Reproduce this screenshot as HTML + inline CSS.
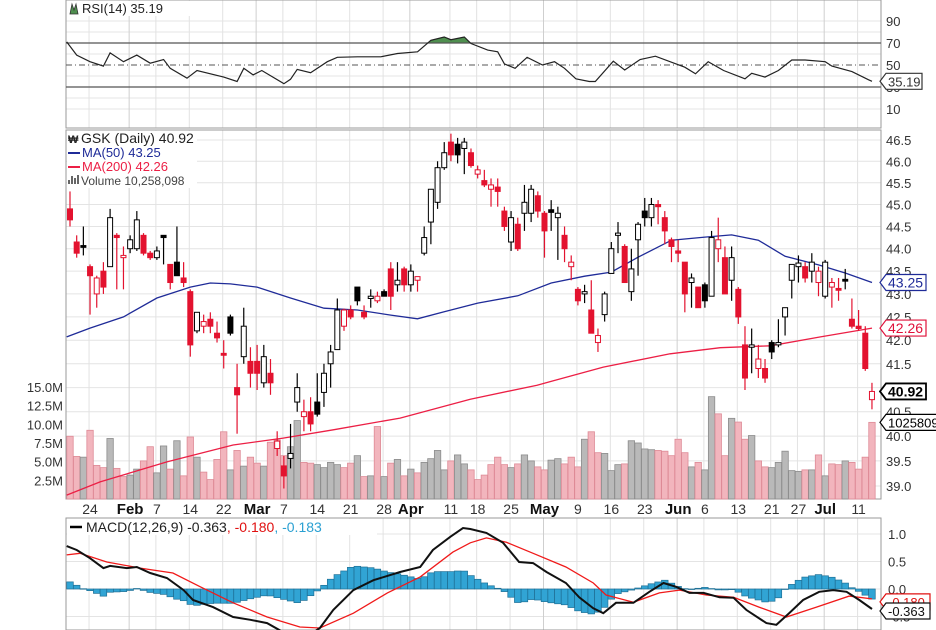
<!DOCTYPE html>
<html><head><meta charset="utf-8"><style>
html,body{margin:0;padding:0;background:#fff;}
svg{display:block;font-family:"Liberation Sans",sans-serif;}
</style></head><body>
<svg id="chart" width="936" height="630" viewBox="0 0 936 630" xmlns="http://www.w3.org/2000/svg">
<g id="grid"></g><g id="marks"></g><g id="labels"></g>
</svg>
<script>
const opens=[44.9,44.15,44.07,43.6,43.0,43.5,43.6,44.3,43.8,44.0,44.0,44.3,43.9,43.8,44.3,43.65,43.7,43.35,43.05,42.2,42.3,42.45,42.15,41.72,42.5,41.0,41.65,41.55,41.55,41.1,41.3,39.75,39.4,39.55,40.7,40.4,40.5,40.7,40.9,41.5,41.8,42.3,42.65,43.15,42.6,42.9,42.85,43.05,43.55,43.2,43.55,43.2,43.3,43.9,44.6,45.05,45.85,46.45,46.4,46.3,46.2,45.7,45.55,45.35,45.4,44.85,44.15,44.55,44.8,44.8,45.2,44.8,44.88,44.7,44.3,43.6,43.1,43.0,42.65,41.95,42.55,43.45,44.3,44.05,43.05,44.2,44.85,44.7,45.0,44.7,44.2,43.95,43.7,43.25,43.15,43.2,42.95,44.0,43.8,43.3,43.1,41.9,41.85,41.4,41.4,41.95,41.9,42.5,43.3,43.6,43.6,43.5,43.25,42.95,43.15,43.12,43.32,42.45,42.3,42.15,40.75];
const highs=[45.3,44.3,44.5,43.65,43.4,43.7,44.9,44.35,44.05,44.3,44.85,44.35,43.95,44.05,44.3,43.65,44.5,43.7,43.1,42.6,42.55,42.6,42.4,42.0,42.55,41.5,42.7,41.85,41.9,41.9,41.6,40.1,39.6,40.25,41.3,40.75,40.8,41.3,41.5,41.9,42.9,42.68,42.75,43.15,42.75,43.1,43.05,43.1,43.7,43.7,43.6,43.65,43.35,44.5,45.35,46.0,46.45,46.65,46.55,46.55,46.3,45.9,45.8,45.6,45.6,44.95,44.85,44.7,45.45,45.45,45.3,44.85,45.1,44.95,44.5,43.85,43.15,43.2,43.3,42.25,43.05,44.15,44.6,44.1,44.0,44.6,45.15,45.15,45.1,44.85,44.25,44.2,43.7,43.45,43.15,43.25,44.4,44.7,44.05,44.05,43.15,42.3,42.25,41.9,41.6,42.0,42.45,42.7,43.65,43.85,43.7,43.9,43.6,43.75,43.35,43.35,43.55,42.9,42.65,42.3,41.1];
const lows=[44.5,43.8,43.85,42.55,42.7,43.0,43.6,43.1,43.1,43.9,43.95,43.85,43.75,43.75,43.65,43.1,43.4,43.15,41.65,42.15,42.15,42.15,41.95,41.4,42.1,40.05,41.5,41.0,40.95,41.0,40.85,39.6,38.95,39.35,40.5,40.1,40.1,40.4,40.6,41.0,41.8,42.2,42.45,42.75,42.45,42.7,42.8,42.95,42.65,43.05,43.05,43.05,43.05,43.85,44.1,44.9,45.8,46.0,45.95,45.7,45.85,45.6,45.4,44.95,44.95,44.4,43.95,43.95,44.4,44.6,44.7,43.8,44.4,43.75,43.7,43.3,42.75,42.8,42.15,41.75,42.4,43.45,43.9,43.25,42.85,43.4,44.5,44.5,44.55,44.1,43.7,43.7,42.6,42.7,42.7,42.7,42.95,43.7,43.0,42.85,42.35,40.95,41.3,41.2,41.1,41.6,41.85,42.1,42.9,43.25,43.25,43.25,42.95,42.9,42.7,42.85,43.1,42.25,42.2,41.35,40.55];
const closes=[44.65,43.9,44.03,43.4,43.35,43.15,44.7,44.25,43.85,44.2,44.65,43.9,43.8,43.95,44.25,43.25,43.4,43.25,41.9,42.6,42.4,42.3,42.05,41.68,42.15,40.85,42.3,41.3,41.3,41.65,41.1,39.9,39.2,39.65,41.0,40.5,40.25,40.45,41.3,41.75,42.65,42.65,42.5,42.85,42.5,42.95,42.95,42.95,42.95,43.3,43.2,43.5,43.38,44.25,45.35,45.85,46.2,46.15,46.15,46.45,45.9,45.8,45.45,45.45,45.3,44.5,44.7,44.0,45.05,45.35,44.85,44.4,44.82,44.8,44.0,43.7,42.85,43.05,42.15,42.1,43.0,44.0,44.35,43.25,43.55,44.55,44.7,45.0,44.95,44.4,44.05,43.9,43.0,43.35,42.7,42.85,44.25,44.2,43.0,43.8,42.5,41.2,41.9,41.6,41.2,41.75,41.95,42.7,43.65,43.68,43.35,43.7,43.5,43.7,43.25,43.08,43.28,42.3,42.25,41.4,40.92];
const candleType="rrbrhrwrhwwrrwbrbrrwhrrrbrwrrwrhrwwhrbwwwhrbrwhbrwrwhwwwwrbwrhrhrrwrwwrrbwrhrwrhwwwrwwbwrrrrrwrbwhrwrrwhrbwwwwrwhwhrbrrrh";
const volumes=[8.4,5.7,5.6,9.2,4.5,4.2,8.1,4.1,3.0,3.2,4.0,5.1,7.0,3.5,7.1,4.0,7.8,3.1,8.3,5.6,3.6,2.6,5.3,9.0,3.9,6.5,4.4,5.6,4.8,4.4,7.6,7.9,5.8,7.0,10.5,4.9,4.8,4.6,4.2,4.9,4.6,4.2,4.8,5.8,3.0,3.1,9.7,3.0,4.8,5.3,3.1,4.0,3.5,4.9,5.4,6.5,3.9,5.1,5.9,4.7,3.9,2.6,3.2,4.6,5.6,4.6,4.2,4.7,5.9,5.1,4.3,3.9,5.2,5.4,4.7,5.6,4.3,8.0,9.0,6.2,6.1,3.8,4.6,4.7,7.8,7.5,6.7,6.6,6.5,6.4,5.8,8.0,6.2,4.3,4.9,3.9,13.7,11.4,5.8,10.8,10.3,8.0,8.5,5.1,4.3,4.2,4.9,6.4,3.8,3.7,3.9,3.9,5.9,3.1,4.7,4.6,5.1,4.9,4.0,5.6,10.26];
const ma50Idx=[-0.5,3,8,13,18,21,24,28,33,38,43,48,52,56,61,67,72,77,81,85,90,95,99,103,107,112,116,120];
const ma50Val=[42.07,42.26,42.50,42.91,43.15,43.24,43.22,43.15,42.91,42.69,42.65,42.54,42.46,42.61,42.80,42.96,43.24,43.39,43.48,43.81,44.19,44.26,44.31,44.19,43.83,43.64,43.46,43.25];
const ma200Idx=[-0.5,4.5,14.5,24.4,31.9,39.4,49.4,59.9,69.9,79.8,89.8,97.3,104.8,112.3,120];
const ma200Val=[38.82,39.08,39.48,39.82,39.96,40.13,40.37,40.76,41.05,41.43,41.71,41.84,41.88,42.07,42.26];
const rsiIdx=[-0.5,1,3,5,6,8,10,12,14,15,17.5,19,23,25,26,27.4,28.7,32,33,34,36,38.5,40,43,46.5,49,52,54,56,57,59,60,62.5,64,65,66.6,68.4,70.7,72.5,74,75.7,77.7,78.6,81.3,83,85.3,87.6,92,93.6,95.5,97.8,101,102,104,106,108,110,113,114,117,119.5,120];
const rsiVal=[71,59,53,49,61,53,59,51.6,55,47,38,45,39,35,47,41,45,33,37,46,43,53,57,57.5,57.5,60.5,62,72.5,75.5,73,75.5,69.5,63.5,62,51,47,57,50,53,47,37.5,35,35,53.5,45.5,55,58,48,42,53,45,37.5,42.5,39,45,54.5,54.5,53,49,44,36.5,35.19];
const macdIdx=[-0.5,1,3,5,6,8.5,10,12,14.5,17,18.4,21.4,24.4,27,29.5,31.4,34.4,37.4,39.4,42.4,45.4,49.4,52.4,54.3,56.9,58.8,59.9,62.3,64.8,67.2,69.3,71.3,74.2,76.2,78.3,79.8,81.7,84.3,86.7,88.8,90.7,92.7,94.8,97.2,99.3,101.2,104.2,105.7,107.6,109.7,112.1,114.2,116.2,118.1,120];
const macdVal=[0.78,0.71,0.56,0.38,0.42,0.38,0.4,0.29,0.2,-0.02,-0.2,-0.33,-0.51,-0.56,-0.62,-0.75,-0.95,-0.71,-0.38,-0.02,0.16,0.31,0.4,0.71,0.95,1.11,1.09,1.02,0.84,0.49,0.47,0.31,0.11,-0.15,-0.35,-0.44,-0.25,-0.25,-0.05,0.11,0.04,-0.07,-0.07,-0.15,-0.16,-0.38,-0.62,-0.65,-0.44,-0.2,-0.05,-0.02,-0.05,-0.2,-0.363];
const sigIdx=[-0.5,1.5,5.5,10.5,15.4,19.5,24.4,29.5,34.4,37.4,42.4,47.5,52.4,57.3,59.9,62.3,65.3,69.3,74.2,78.3,80.2,84.3,88.2,91.2,95.2,99.3,103.1,107.2,111.7,116.6,120];
const sigVal=[0.62,0.65,0.49,0.38,0.29,0.04,-0.25,-0.51,-0.69,-0.71,-0.44,-0.07,0.22,0.67,0.84,0.93,0.85,0.65,0.4,0.11,-0.11,-0.24,-0.07,-0.02,-0.11,-0.15,-0.33,-0.51,-0.33,-0.13,-0.18];
const dateIdx=[3,9,13,18,23,28,32,37,42,47,51,57,61,66,71,76,81,86,91,95,100,105,109,113,118];
const dateText=["24","Feb","7","14","22","Mar","7","14","21","28","Apr","11","18","25","May","9","16","23","Jun","6","13","21","27","Jul","11"];
const priceTicks=[39.0,39.5,40.0,40.5,41.0,41.5,42.0,42.5,43.0,43.5,44.0,44.5,45.0,45.5,46.0,46.5];
const volTicks=[2.5,5.0,7.5,10.0,12.5,15.0];
const rsiTicks=[10,30,50,70,90];
const macdTicks=[-0.5,0.0,0.5,1.0];

const NS="http://www.w3.org/2000/svg";
const L=66,R=881;
const X=i=>70+i*6.683;
const PY=p=>140+1967*(Math.log(46.5)-Math.log(p));
const VY=v=>499-v*7.47;
const RY=v=>43+(70-v)*1.1;
const MY=v=>589-v*55;
const RED="#e3122f",PINK="#f2b5bd",PINKS="#de8a96",GRAY="#b9b9b9",GRAYS="#8c8c8c",BLUE="#1f2b98",MARED="#ec1f45";
const grid=document.getElementById('grid'),marks=document.getElementById('marks'),labels=document.getElementById('labels');
function el(tag,attrs,parent){const e=document.createElementNS(NS,tag);for(const k in attrs)e.setAttribute(k,attrs[k]);parent.appendChild(e);return e;}
function txt(s,attrs,parent){const e=el('text',attrs,parent);e.textContent=s;return e;}
function interp(idx,val,i){if(i<=idx[0])return val[0];for(let k=1;k<idx.length;k++){if(i<=idx[k]){const t=(i-idx[k-1])/(idx[k]-idx[k-1]);return val[k-1]+t*(val[k]-val[k-1]);}}return val[val.length-1];}
function pathOf(idx,val,yf){return idx.map((d,k)=>(k?'L':'M')+Math.max(L,X(d)).toFixed(1)+','+yf(val[k]).toFixed(1)).join(' ');}

// panel frames & grids
const panels=[[0,128],[130,499],[518,630]];
// horizontal grid lines
priceTicks.forEach(p=>{const g=el('line',{x1:L,x2:R,y1:PY(p),y2:PY(p),stroke:'#e4e4e4','stroke-width':1},grid);});
[20,40,60,80,100,120].forEach(y=>{});
[90,80,60,40,20,10].forEach(v=>{const g=el('line',{x1:L,x2:R,y1:RY(v),y2:RY(v),stroke:'#e6e6e6'},grid);});
macdTicks.forEach(v=>{const g=el('line',{x1:L,x2:R,y1:MY(v),y2:MY(v),stroke:'#e4e4e4'},grid);});
dateIdx.forEach((d,k)=>{const bold=isNaN(+dateText[k]);panels.forEach(([a,b])=>{const g=el('line',{x1:X(d)-1,x2:X(d)-1,y1:a,y2:b,stroke:bold?'#cfcfcf':'#e2e2e2'},grid);});});
panels.forEach(([a,b])=>{const f=el('rect',{x:L,y:a,width:R-L,height:b-a,fill:'none',stroke:'#9a9a9a'},grid);});

// RSI panel
const rsiP=pathOf(rsiIdx,rsiVal,RY);
el('clipPath',{id:'ob'},marks).appendChild(Object.assign(document.createElementNS(NS,'rect'),{}));
document.querySelector('#ob rect').setAttribute('x',L);document.querySelector('#ob rect').setAttribute('y',0);document.querySelector('#ob rect').setAttribute('width',R-L);document.querySelector('#ob rect').setAttribute('height',RY(70));
const fillP=rsiP+' L'+X(120)+','+RY(70)+' L'+L+','+RY(70)+' Z';
const rf=el('path',{d:fillP,fill:'#4f8f4f','clip-path':'url(#ob)'},marks);
[70,30].forEach(v=>{const g=el('line',{x1:L,x2:R,y1:RY(v),y2:RY(v),stroke:'#555','stroke-width':1.3},marks);});
const mid=el('line',{x1:L,x2:R,y1:RY(50),y2:RY(50),stroke:'#555','stroke-dasharray':'6,3,1,3'},marks);
const rl=el('path',{d:rsiP,fill:'none',stroke:'#222','stroke-width':1.2},marks);

// volume bars
volumes.forEach((v,i)=>{const up=candleType[i]==='w'||candleType[i]==='b';const b=el('rect',{x:X(i)-3.2,y:VY(v),width:6.4,height:499-VY(v),fill:up?GRAY:PINK,stroke:up?GRAYS:PINKS,'stroke-width':0.8},marks);});
// MAs
const m2=el('path',{d:pathOf(ma200Idx,ma200Val,PY),fill:'none',stroke:MARED,'stroke-width':1.3},marks);
const m5=el('path',{d:pathOf(ma50Idx,ma50Val,PY),fill:'none',stroke:BLUE,'stroke-width':1.3},marks);
// candles
opens.forEach((o,i)=>{const c=closes[i],t=candleType[i];const col=(t==='r'||t==='h')?RED:'#000';const g=el('g',{},marks);
el('line',{x1:X(i),x2:X(i),y1:PY(highs[i]),y2:PY(lows[i]),stroke:col,'stroke-width':1.2},g);
const top=Math.min(PY(o),PY(c)),h=Math.max(1.5,Math.abs(PY(o)-PY(c)));
const filled=(t==='r'||t==='b');el('rect',{x:X(i)-2.5,y:top,width:5,height:h,fill:filled?col:'#fff',stroke:col,'stroke-width':1},g);});

// MACD
for(let i=0;i<=120;i++){const h=interp(macdIdx,macdVal,i)-interp(sigIdx,sigVal,i);const y0=MY(0),y1=MY(h);const b=el('rect',{x:X(i)-3.3,y:Math.min(y0,y1),width:6.6,height:Math.max(0.5,Math.abs(y1-y0)),fill:'#31a4d4',stroke:'#1f7096','stroke-width':0.7},marks);}
const sl=el('path',{d:pathOf(sigIdx,sigVal,MY),fill:'none',stroke:'#f01a1a','stroke-width':1.3},marks);
const ml=el('path',{d:pathOf(macdIdx,macdVal,MY),fill:'none',stroke:'#111','stroke-width':2},marks);

// axis labels
priceTicks.forEach(p=>{const t=txt(p.toFixed(1),{x:886,y:PY(p)+5,'font-size':13,fill:'#333'},labels);});
volTicks.forEach(v=>{const t=txt(v.toFixed(1)+'M',{x:63,y:VY(v)+5,'font-size':13,fill:'#333','text-anchor':'end'},labels);});
rsiTicks.forEach(v=>{const t=txt(String(v),{x:886,y:RY(v)+5,'font-size':13,fill:'#333'},labels);});
macdTicks.forEach(v=>{const t=txt(v.toFixed(1),{x:888,y:MY(v)+5,'font-size':13,fill:'#333'},labels);});
dateIdx.forEach((d,k)=>{const bold=isNaN(+dateText[k]);const t=txt(dateText[k],{x:X(d),y:514,'font-size':bold?15:14,'font-weight':bold?'bold':'normal',fill:bold?'#111':'#333','text-anchor':'middle'},labels);});

function tag(s,y,col,opts){const w=opts.w||40;const g=el('g',{},labels);
el('path',{d:`M880,${y} L886,${y-8} L${886+w},${y-8} L${886+w},${y+8} L886,${y+8} Z`,fill:'#fff',stroke:col,'stroke-width':opts.bw||1.2},g);
txt(s,{x:888,y:y+5,'font-size':opts.fs||14,'font-weight':opts.bold?'bold':'normal',fill:col},g);}
tag('43.25',PY(43.25),BLUE,{name:'ma50-value-tag'});
tag('42.26',PY(42.26),'#e0103a',{name:'ma200-value-tag'});
tag('40.92',PY(40.92),'#000',{name:'last-price-tag',bold:true,bw:1.8});
tag('10258098',VY(10.26),'#000',{name:'volume-value-tag',w:60,fs:13});
tag('35.19',RY(35.19),'#333',{name:'rsi-value-tag',w:36,fs:13});
tag('-0.180',MY(-0.18)+3,'#e01010',{name:'signal-value-tag',w:44,fs:13});
tag('-0.363',MY(-0.363)+2,'#111',{name:'macd-value-tag',w:44,fs:13});

// legends
function legend(y,h,w){el('rect',{x:67,y:y,width:w,height:h,fill:'#fff'},labels);}
legend(1,15,125);
const ri=el('path',{d:'M70,14 L72,4 L74,10 L76,4 L78,14 Z',fill:'#4f8f4f',stroke:'#333','stroke-width':0.8},labels);
const rt=txt('RSI(14) 35.19',{x:82,y:13,'font-size':13,fill:'#222'},labels);
legend(131,57,130);
const gi=txt('₩',{x:68,y:143,'font-size':11,'font-weight':'bold',fill:'#222'},labels);
const gt=txt('GSK (Daily) 40.92',{x:81,y:143,'font-size':14,fill:'#222'},labels);
el('line',{x1:68,x2:80,y1:153,y2:153,stroke:BLUE,'stroke-width':2},labels);
const bt=txt('MA(50) 43.25',{x:82,y:157,'font-size':13,fill:BLUE},labels);
el('line',{x1:68,x2:80,y1:167,y2:167,stroke:MARED,'stroke-width':2},labels);
const at=txt('MA(200) 42.26',{x:82,y:171,'font-size':13,fill:MARED},labels);
[0,3,6,9].forEach((d,k)=>el('rect',{x:68+d,y:184-[4,8,6,9][k],width:2,height:[4,8,6,9][k],fill:'#666'},labels));
const vt=txt('Volume 10,258,098',{x:81,y:185,'font-size':12,fill:'#444'},labels);
legend(519,16,310);
el('line',{x1:70,x2:82,y1:527,y2:527,stroke:'#000','stroke-width':2.5},labels);
const mt=el('text',{x:86,y:532,'font-size':14,fill:'#222'},labels);
mt.innerHTML='MACD(12,26,9) -0.363<tspan fill="#e01010">, -0.180</tspan><tspan fill="#2aa0d2">, -0.183</tspan>';
</script>
</body></html>
